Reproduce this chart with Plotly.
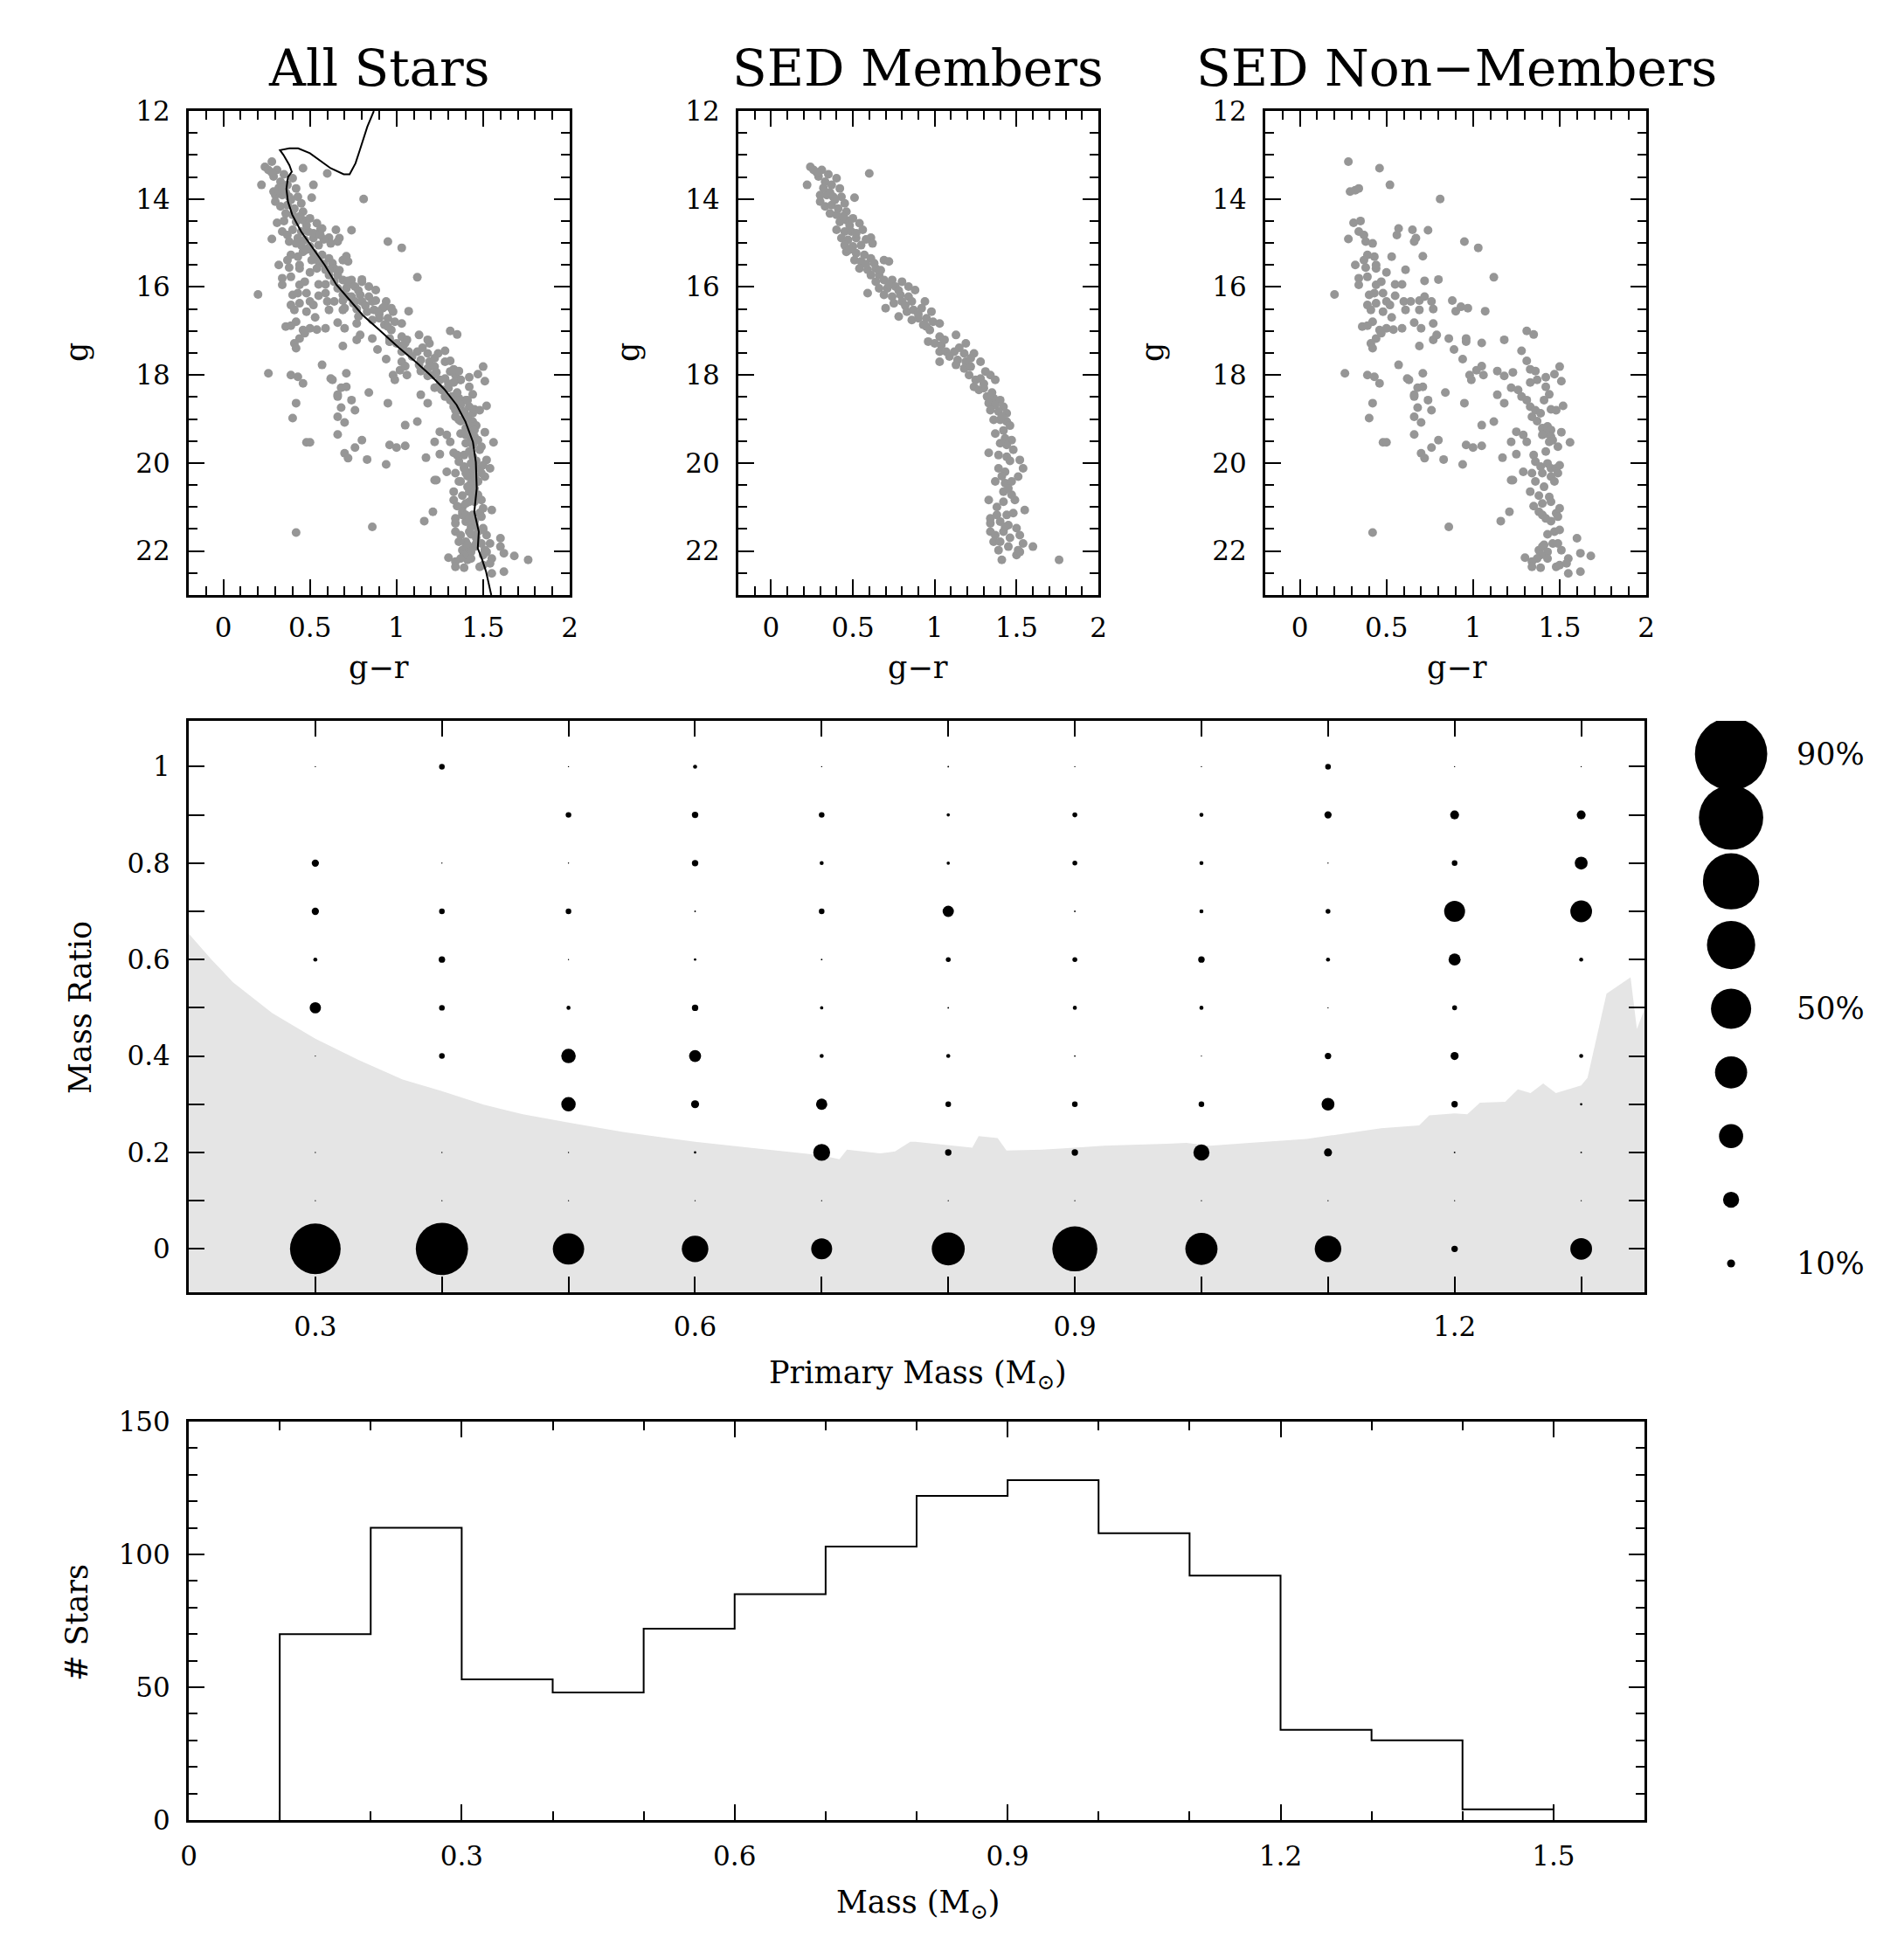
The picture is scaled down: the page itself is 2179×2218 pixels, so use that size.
import plotly.graph_objects as go

W, H = 2179, 2218
FONT = "DejaVu Serif"

# ---------------- CMD data (g-r, g) ----------------
members = [(0.24,13.27),(0.26,13.34),(0.22,13.68),(0.31,13.34),(0.35,13.44),(0.40,13.53),(0.60,13.42),(0.29,13.49),
    (0.33,13.61),(0.37,13.68),(0.42,13.76),(0.30,13.91),(0.34,13.91),(0.38,13.95),(0.43,13.95),(0.51,13.97),(0.30,14.06),
    (0.33,14.17),(0.37,14.14),(0.45,14.10),(0.36,14.33),(0.40,14.36),(0.46,14.29),(0.42,14.52),(0.46,14.48),(0.50,14.44),
    (0.54,14.55),(0.40,14.70),(0.45,14.74),(0.49,14.74),(0.56,14.70),(0.43,14.89),(0.47,14.93),(0.52,14.89),(0.61,14.88),
    (0.45,15.05),(0.50,15.08),(0.55,15.05),(0.62,15.01),(0.46,15.20),(0.52,15.23),(0.57,15.27),(0.51,15.39),(0.55,15.42),
    (0.61,15.35),(0.63,15.46),(0.69,15.39),(0.72,15.42),(0.54,15.58),(0.59,15.61),(0.64,15.58),(0.61,15.73),(0.66,15.73),
    (0.59,16.14),(0.64,15.88),(0.69,15.84),(0.74,15.84),(0.80,15.88),(0.66,16.03),(0.71,16.03),(0.76,15.99),(0.84,15.99),
    (0.88,16.07),(0.69,16.18),(0.74,16.22),(0.79,16.18),(0.84,16.22),(0.70,16.48),(0.75,16.37),(0.80,16.33),(0.86,16.33),
    (0.94,16.33),(0.78,16.67),(0.83,16.56),(0.87,16.52),(0.92,16.48),(0.98,16.56),(0.86,16.75),(0.90,16.71),(0.95,16.71),
    (0.99,16.79),(1.03,16.83),(0.93,16.86),(0.97,16.98),(1.03,17.13),(1.13,17.09),(1.19,17.28),(0.96,17.24),(1.00,17.28),
    (1.04,17.32),(1.03,17.47),(1.07,17.47),(1.12,17.47),(1.18,17.51),(1.24,17.51),(1.28,17.70),(1.03,17.70),(1.09,17.58),
    (1.14,17.66),(1.19,17.70),(1.13,17.77),(1.18,17.85),(1.22,17.81),(1.21,18.00),(1.25,18.11),(1.28,18.08),(1.34,18.00),
    (1.37,18.11),(1.24,18.27),(1.27,18.34),(1.30,18.30),(1.32,18.49),(1.36,18.53),(1.40,18.57),(1.33,18.64),(1.37,18.68),
    (1.42,18.72),(1.34,18.80),(1.39,18.83),(1.44,18.87),(1.36,19.02),(1.40,19.02),(1.44,19.06),(1.37,19.33),(1.42,19.26),
    (1.43,19.44),(1.47,19.48),(1.44,19.59),(1.48,19.70),(1.33,19.77),(1.39,19.82),(1.44,19.86),(1.52,19.93),(1.54,20.12),
    (1.39,20.12),(1.43,20.20),(1.37,20.42),(1.43,20.46),(1.47,20.42),(1.51,20.31),(1.42,20.65),(1.45,20.58),(1.33,20.84),
    (1.42,20.88),(1.49,20.84),(1.55,21.07),(1.34,21.26),(1.38,21.18),(1.44,21.18),(1.48,21.14),(1.34,21.37),(1.40,21.33),
    (1.45,21.41),(1.50,21.48),(1.34,21.56),(1.37,21.64),(1.42,21.56),(1.52,21.64),(1.36,21.79),(1.40,21.79),(1.54,21.83),
    (1.39,21.98),(1.45,21.90),(1.51,21.98),(1.60,21.90),(1.41,22.20),(1.50,22.09),(1.76,22.20),(1.52,22.02),
    (0.28,13.40),(0.32,13.75),(0.36,13.85),(0.39,14.02),(0.41,14.22),(0.44,14.40),(0.48,14.60),(0.52,14.78),(0.58,14.92),
    (0.48,15.15),(0.58,15.48),(0.67,15.62),(0.72,15.95),(0.78,16.08),(0.82,16.42),(0.90,16.62),(0.95,16.90),(1.06,17.20),
    (1.15,17.38),(1.22,17.62),(1.31,17.92),(1.30,18.20),(1.35,18.40),(1.41,18.95),(1.46,19.15),(1.40,19.55),(1.46,19.95),
    (1.41,20.30),(1.47,20.72),(1.38,21.00),(1.43,21.45),(1.46,21.70)]

non_members = [(0.28,13.15),(0.46,13.30),(0.52,13.68),(0.29,13.83),(0.32,13.80),(0.34,13.76),(0.81,14.00),(0.31,14.54),
    (0.35,14.50),(0.28,14.91),(0.34,14.74),(0.37,14.82),(0.38,14.97),(0.42,15.01),(0.57,14.67),(0.56,14.82),(0.65,14.70),
    (0.74,14.71),(0.67,14.89),(0.66,14.97),(0.95,14.97),(1.03,15.11),(0.71,15.30),(0.53,15.31),(0.39,15.27),(0.37,15.39),
    (0.43,15.31),(0.32,15.50),(0.38,15.56),(0.44,15.58),(0.44,15.50),(0.61,15.61),(0.50,15.67),(0.34,15.80),(0.39,15.77),
    (0.34,15.95),(0.44,15.95),(0.47,15.88),(0.55,15.94),(0.59,15.94),(0.72,15.86),(0.80,15.83),(1.12,15.78),(0.20,16.17),
    (0.40,16.18),(0.43,16.14),(0.48,16.14),(0.39,16.41),(0.44,16.37),(0.50,16.33),(0.52,16.41),(0.41,16.52),(0.48,16.56),
    (0.53,16.69),(0.55,16.20),(0.60,16.33),(0.64,16.33),(0.69,16.31),(0.72,16.22),(0.76,16.33),(0.69,16.52),(0.77,16.50),
    (0.88,16.31),(0.90,16.55),(0.93,16.45),(0.97,16.48),(1.07,16.55),(0.61,16.52),(0.42,16.79),(0.36,16.90),(0.39,16.88),
    (0.46,16.98),(0.50,16.94),(0.54,16.97),(0.59,16.94),(0.66,16.81),(0.70,16.94),(0.77,16.83),(0.44,17.17),(0.47,17.05),
    (0.41,17.28),(0.42,17.39),(0.69,17.34),(0.77,17.20),(0.79,17.09),(0.86,17.17),(0.89,17.42),(0.96,17.24),(0.96,17.17),
    (1.05,17.27),(1.18,17.20),(0.94,17.64),(1.31,17.00),(1.35,17.08),(1.28,17.45),(1.31,17.68),(1.33,17.87),(1.36,17.91),
    (1.50,17.81),(1.47,17.98),(1.51,18.14),(1.42,18.05),(1.37,18.11),(1.33,18.17),(1.42,18.27),(1.44,18.44),(1.41,18.57),
    (1.52,18.70),(1.22,18.29),(1.26,18.34),(1.28,18.49),(1.31,18.57),(1.33,18.72),(1.36,18.80),(1.39,18.87),(1.34,18.95),
    (1.37,19.05),(1.45,18.78),(1.48,18.80),(1.40,19.21),(1.43,19.17),(1.45,19.25),(1.42,19.33),(1.45,19.40),(1.40,19.36),
    (1.46,19.48),(1.51,19.30),(1.56,19.53),(1.49,19.63),(1.44,19.52),(1.42,19.74),(1.25,19.29),(1.29,19.36),(1.31,19.52),
    (1.22,19.52),(1.17,19.88),(1.25,19.80),(1.35,19.82),(1.36,19.97),(1.39,20.08),(1.43,20.01),(1.45,20.12),(1.48,20.12),
    (1.50,20.05),(1.29,20.20),(1.34,20.23),(1.40,20.23),(1.45,20.31),(1.49,20.23),(1.36,20.42),(1.41,20.54),(1.47,20.42),
    (1.22,20.39),(1.23,20.39),(1.33,20.65),(1.38,20.74),(1.44,20.77),(1.45,20.88),(1.35,20.98),(1.40,20.92),(1.38,21.11),
    (1.40,21.18),(1.42,21.26),(1.45,21.32),(1.48,21.14),(1.50,21.03),(1.49,21.22),(1.21,21.11),(1.16,21.32),(1.43,21.62),
    (1.47,21.56),(1.50,21.52),(1.49,21.83),(1.46,21.83),(1.51,21.98),(1.60,21.71),(1.38,21.98),(1.40,21.90),(1.41,21.86),
    (1.43,22.02),(1.39,22.09),(1.37,22.17),(1.43,22.17),(1.30,22.15),(1.34,22.24),(1.34,22.36),(1.39,22.38),(1.48,22.36),
    (1.50,22.32),(1.55,22.17),(1.55,22.51),(1.62,22.05),(1.62,22.47),(1.68,22.11),(1.54,22.28),(0.42,21.58),(0.86,21.45),
    (0.26,17.96),(0.39,18.00),(0.43,18.04),(0.46,18.19),(0.57,17.77),(0.62,18.08),(0.63,18.11),(0.68,18.29),(0.71,18.27),
    (0.71,17.96),(0.66,18.49),(0.66,18.45),(0.74,18.57),(0.68,18.74),(0.76,18.80),(0.84,18.40),(0.95,18.64),(0.42,18.64),
    (0.40,18.98),(0.66,18.95),(0.70,19.08),(0.66,19.35),(0.48,19.53),(0.50,19.53),(0.80,19.48),(0.76,19.65),(0.70,19.78),
    (0.72,19.89),(0.83,19.92),(0.94,20.03),(0.96,19.59),(1.00,19.65),(1.05,19.61),(1.05,19.14),(1.12,19.06),(0.98,18.00),
    (0.99,18.11),(1.02,17.89),(1.05,17.80),(1.06,18.00),(1.14,17.91),(1.18,18.02),(1.23,17.94),(1.14,18.45),(1.18,18.64)]

mem_gr = [p[0] for p in members]
mem_g = [p[1] for p in members]
non_gr = [p[0] for p in non_members]
non_g = [p[1] for p in non_members]

# isochrone (g-r, g)
iso_gr = [0.869, 0.831, 0.788, 0.763, 0.729, 0.695, 0.619, 0.551, 0.50, 0.432, 0.381, 0.327, 0.347, 0.381, 0.395,
          0.373, 0.364, 0.373, 0.398, 0.449, 0.517, 0.585, 0.653, 0.720, 0.805, 0.89, 1.008, 1.11, 1.195, 1.28,
          1.347, 1.398, 1.441, 1.458, 1.463, 1.449, 1.475, 1.469, 1.492, 1.517, 1.547]
iso_g = [12.0, 12.36, 12.89, 13.19, 13.44, 13.44, 13.30, 13.11, 12.96, 12.85, 12.85, 12.89, 13.0, 13.23, 13.38,
         13.5, 13.77, 14.06, 14.36, 14.74, 15.12, 15.5, 15.95, 16.26, 16.64, 16.94, 17.36, 17.7, 18.0, 18.34,
         18.68, 19.06, 19.52, 19.98, 20.58, 21.11, 21.56, 21.94, 22.17, 22.47, 23.0]

# ---------------- binary fraction grid ----------------
primary_mass = [0.3, 0.4, 0.5, 0.6, 0.7, 0.8, 0.9, 1.0, 1.1, 1.2, 1.3]
mass_ratio = [0.0, 0.1, 0.2, 0.3, 0.4, 0.5, 0.6, 0.7, 0.8, 0.9, 1.0]
# percent per (mass_ratio row, primary_mass column)
binary_pct = [
    [63, 65, 39, 33, 26, 41, 56, 40, 33, 8, 27],
    [1.5, 1.5, 1.5, 1.5, 1.5, 1.5, 1.5, 1.5, 1.5, 1.5, 1.5],
    [1.5, 1.5, 1.5, 3, 21, 8, 8, 20, 10, 2, 2],
    [0, 0, 18, 10, 14, 7, 7, 7, 16, 8, 3],
    [1.5, 7, 18, 15, 5, 5, 2, 1.5, 8, 10, 5],
    [14, 7, 5, 8, 4, 2, 5, 5, 1.5, 6, 0],
    [5, 8, 1.5, 3, 2, 6, 6, 8, 5, 15, 5],
    [9, 7, 7, 2, 7, 14, 2, 5, 6, 26, 27],
    [9, 1.5, 1.5, 8, 5, 4, 6, 5, 1.5, 7, 16],
    [0, 0, 7, 8, 7, 4, 6, 5, 9, 11, 11],
    [1.5, 7, 1.5, 5, 1.5, 2, 1.5, 1.5, 7, 1.5, 1.5],
]
legend_pct = [10, 20, 30, 40, 50, 60, 70, 80, 90]
legend_labels = {10: "10%", 50: "50%", 90: "90%"}

# detection limit (shaded region)
lim_mass = [0.2, 0.218, 0.235, 0.266, 0.3, 0.334, 0.369, 0.4, 0.433, 0.464, 0.5, 0.544, 0.6, 0.643, 0.7, 0.714,
            0.72, 0.746, 0.758, 0.77, 0.774, 0.819, 0.824, 0.839, 0.846, 0.874, 0.9, 0.923, 0.973, 0.988, 1.007,
            1.038, 1.083, 1.142, 1.172, 1.18, 1.2, 1.21, 1.22, 1.24, 1.25, 1.26, 1.27, 1.28, 1.3, 1.305, 1.32,
            1.339, 1.344, 1.35]
lim_q = [0.654, 0.60, 0.553, 0.489, 0.436, 0.392, 0.351, 0.327, 0.299, 0.279, 0.262, 0.242, 0.222, 0.21, 0.194,
         0.186, 0.206, 0.198, 0.202, 0.222, 0.222, 0.21, 0.234, 0.23, 0.204, 0.206, 0.21, 0.214, 0.218, 0.22,
         0.214, 0.22, 0.228, 0.25, 0.256, 0.277, 0.281, 0.279, 0.303, 0.305, 0.331, 0.323, 0.343, 0.323, 0.339,
         0.355, 0.529, 0.563, 0.456, 0.497]

# ---------------- mass histogram ----------------
bin_edges = [0.1, 0.2, 0.3, 0.4, 0.5, 0.6, 0.7, 0.8, 0.9, 1.0, 1.1, 1.2, 1.3, 1.4, 1.5]
counts = [70, 110, 53, 48, 72, 85, 103, 122, 128, 108, 92, 34, 30, 4]

GRAY = "rgb(150,150,150)"
DOT_SCALE = 0.92
mid_xr = [0.2, 1.35]
mid_yr = [-0.09, 1.095]


def px_x(a, b):
    return [a / W, b / W]


def px_y(top, bot):
    return [1 - bot / H, 1 - top / H]


fig = go.Figure()

# CMD panels
fig.add_trace(go.Scatter(x=mem_gr + non_gr, y=mem_g + non_g, mode="markers",
                         marker=dict(size=10, color=GRAY, opacity=1), xaxis="x", yaxis="y"))
fig.add_trace(go.Scatter(x=iso_gr, y=iso_g, mode="lines", line=dict(color="black", width=2),
                         xaxis="x", yaxis="y"))
fig.add_trace(go.Scatter(x=mem_gr, y=mem_g, mode="markers",
                         marker=dict(size=10, color=GRAY, opacity=1), xaxis="x2", yaxis="y2"))
fig.add_trace(go.Scatter(x=non_gr, y=non_g, mode="markers",
                         marker=dict(size=10, color=GRAY, opacity=1), xaxis="x3", yaxis="y3"))

# shaded detection limit
fig.add_trace(go.Scatter(x=lim_mass + [lim_mass[-1], lim_mass[0]], y=lim_q + [mid_yr[0], mid_yr[0]],
                         fill="toself", fillcolor="rgb(229,229,229)", mode="none",
                         xaxis="x4", yaxis="y4"))

bx, by, bs = [], [], []
for i, q in enumerate(mass_ratio):
    for j, m in enumerate(primary_mass):
        if binary_pct[i][j] > 0:
            bx.append(m)
            by.append(q)
            bs.append(binary_pct[i][j] * DOT_SCALE)
fig.add_trace(go.Scatter(x=bx, y=by, mode="markers",
                         marker=dict(size=bs, color="black", opacity=1, line=dict(width=0)),
                         xaxis="x4", yaxis="y4"))

# size legend
fig.add_trace(go.Scatter(x=[0] * len(legend_pct), y=list(range(len(legend_pct))), mode="markers",
                         marker=dict(size=[p * DOT_SCALE for p in legend_pct], color="black", opacity=1,
                                     line=dict(width=0)),
                         xaxis="x6", yaxis="y6"))

# histogram
fig.add_trace(go.Scatter(x=[bin_edges[0]] + bin_edges, y=[0] + counts + [counts[-1]],
                         mode="lines", line=dict(color="black", width=2, shape="hv"),
                         xaxis="x5", yaxis="y5"))

tickfont = dict(family=FONT, size=31, color="black")
common = dict(showgrid=False, zeroline=False, showline=True, linecolor="black", linewidth=3,
              mirror="allticks", ticks="inside", tickcolor="black", tickwidth=2, ticklen=18,
              tickfont=tickfont, automargin=False, ticklabelstandoff=12)

cmd_x = dict(common, range=[-0.2, 2.0], tick0=0, dtick=0.5, ticklabelstandoff=8,
             minor=dict(dtick=0.1, ticks="inside", ticklen=10, tickcolor="black", tickwidth=2))
cmd_y = dict(common, range=[23, 12], tick0=12, dtick=2,
             minor=dict(dtick=0.5, ticks="inside", ticklen=10, tickcolor="black", tickwidth=2))

layout = dict(
    width=W, height=H, showlegend=False,
    paper_bgcolor="white", plot_bgcolor="white",
    margin=dict(l=0, r=0, t=0, b=0, pad=0, autoexpand=False),
    xaxis=dict(cmd_x, domain=px_x(216, 652), anchor="y"),
    yaxis=dict(cmd_y, domain=px_y(127, 681), anchor="x"),
    xaxis2=dict(cmd_x, domain=px_x(845, 1257), anchor="y2"),
    yaxis2=dict(cmd_y, domain=px_y(127, 681), anchor="x2"),
    xaxis3=dict(cmd_x, domain=px_x(1448, 1884), anchor="y3"),
    yaxis3=dict(cmd_y, domain=px_y(127, 681), anchor="x3"),
    xaxis4=dict(common, domain=px_x(216, 1882), anchor="y4", range=mid_xr, tick0=0, dtick=0.3,
                ticklabelstandoff=10,
                minor=dict(dtick=0.1, ticks="inside", ticklen=18, tickcolor="black", tickwidth=2)),
    yaxis4=dict(common, domain=px_y(825, 1479), anchor="x4", range=mid_yr, tick0=0, dtick=0.2,
                minor=dict(dtick=0.1, ticks="inside", ticklen=18, tickcolor="black", tickwidth=2)),
    xaxis5=dict(common, domain=px_x(216, 1882), anchor="y5", range=[0, 1.6], tick0=0, dtick=0.3,
                minor=dict(dtick=0.1, ticks="inside", ticklen=10, tickcolor="black", tickwidth=2)),
    yaxis5=dict(common, domain=px_y(1627, 2083), anchor="x5", range=[0, 150], tick0=0, dtick=50,
                minor=dict(dtick=10, ticks="inside", ticklen=10, tickcolor="black", tickwidth=2)),
    xaxis6=dict(domain=px_x(1900, 2179), anchor="y6", range=[-1, 2.44], visible=False, automargin=False),
    yaxis6=dict(domain=px_y(825, 1479), anchor="x6", range=[-0.453, 8.52], visible=False, automargin=False),
)
fig.update_layout(**layout)

titlefont = dict(family=FONT, size=58, color="black")
labfont = dict(family=FONT, size=35, color="black")
ann = []
for text, cx in [("All Stars", 434), ("SED Members", 1050), ("SED Non\u2212Members", 1667)]:
    ann.append(dict(text=text, x=cx / W, y=1 - 78 / H, xref="paper", yref="paper", showarrow=False,
                    font=titlefont, xanchor="center", yanchor="middle"))
for cx in [433, 1050, 1667]:
    ann.append(dict(text="g\u2212r", x=cx / W, y=1 - 764 / H, xref="paper", yref="paper", showarrow=False,
                    font=labfont, xanchor="center", yanchor="middle"))
for cx in [88, 719, 1319]:
    ann.append(dict(text="g", x=cx / W, y=1 - 403 / H, xref="paper", yref="paper", showarrow=False,
                    font=labfont, xanchor="center", yanchor="middle", textangle=-90))
ann.append(dict(text="Mass Ratio", x=92 / W, y=1 - 1153 / H, xref="paper", yref="paper", showarrow=False,
                font=labfont, xanchor="center", yanchor="middle", textangle=-90))
ann.append(dict(text="Primary Mass (M<sub>\u2299</sub>)", x=1050 / W, y=1 - 1573 / H, xref="paper",
                yref="paper", showarrow=False, font=labfont, xanchor="center", yanchor="middle"))
ann.append(dict(text="# Stars", x=88 / W, y=1 - 1857 / H, xref="paper", yref="paper", showarrow=False,
                font=labfont, xanchor="center", yanchor="middle", textangle=-90))
ann.append(dict(text="Mass (M<sub>\u2299</sub>)", x=1050 / W, y=1 - 2179 / H, xref="paper",
                yref="paper", showarrow=False, font=labfont, xanchor="center", yanchor="middle"))
for i, p in enumerate(legend_pct):
    if p in legend_labels:
        ann.append(dict(text=legend_labels[p], x=0.9, y=i, xref="x6", yref="y6", showarrow=False,
                        font=labfont, xanchor="left", yanchor="middle"))
fig.update_layout(annotations=ann)

fig.write_html("out.html", config={"displayModeBar": False},
               post_script="document.body.style.margin='0';")
